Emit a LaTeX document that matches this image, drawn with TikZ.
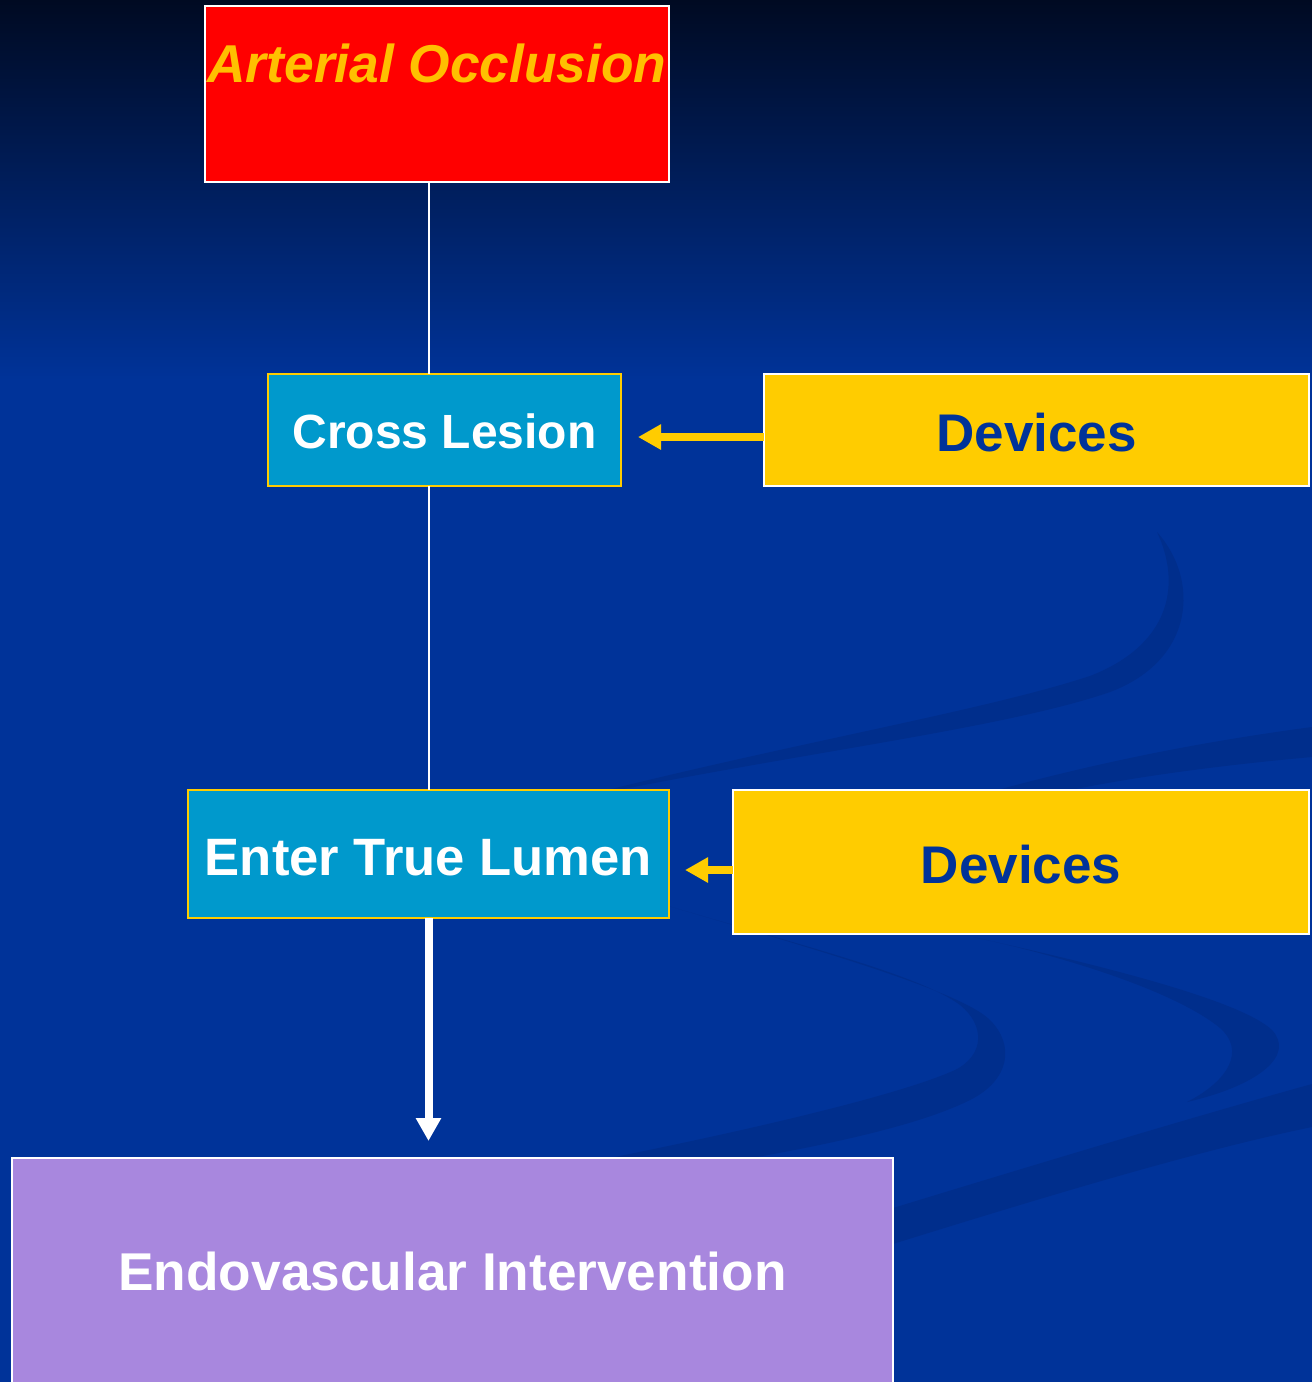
\documentclass[tikz,border=0pt]{standalone}
\usepackage{fontspec}
\setmainfont{Liberation Sans}
\usetikzlibrary{arrows.meta}
\definecolor{bgtop}{HTML}{000A22}
\definecolor{bgmain}{HTML}{003399}
\definecolor{swc}{HTML}{002E8C}
\definecolor{occred}{HTML}{FF0000}
\definecolor{occtxt}{HTML}{FFC000}
\definecolor{stepblue}{HTML}{0099CC}
\definecolor{devyel}{HTML}{FFCC00}
\definecolor{devtxt}{HTML}{003399}
\definecolor{endofill}{HTML}{A887DE}
\newcommand\myfs[1]{\fontsize{#1}{#1}\selectfont}
\begin{document}
\begin{tikzpicture}[x=1pt,y=-1pt,
  box/.style={rectangle, inner sep=0pt, outer sep=0pt, line width=2pt, anchor=north west},
  occbox/.style={box, draw=white, fill=occred, text=occtxt, font=\myfs{53.3}\bfseries\itshape},
  stepbox/.style={box, draw=devyel, fill=stepblue, text=white, font=\bfseries},
  devbox/.style={box, draw=white, fill=devyel, text=devtxt, font=\myfs{53}\bfseries},
  endobox/.style={box, draw=white, fill=endofill, text=white, font=\myfs{53.2}\bfseries},
  swoosh/.style={fill=swc},
  thinline/.style={draw=white, line width=2pt},
  yarr/.style={draw=devyel, line width=7.5pt, -{Triangle[length=23pt,width=24pt]}},
  warr/.style={draw=white, line width=8pt, -{Triangle[length=23pt,width=24pt]}}]
\useasboundingbox (0,0) rectangle (1312,1382);
% background
\fill[bgmain] (0,0) rectangle (1312,1382);
\shade[top color=bgtop, bottom color=bgmain] (0,0) rectangle (1312,380);
% swooshes
\fill[swoosh] (560,802) .. controls (780,755) and (1000,730) .. (1110,692)
  .. controls (1195,660) and (1200,580) .. (1157,532)
  .. controls (1182,585) and (1170,645) .. (1090,676)
  .. controls (980,712) and (780,745) .. (560,802) -- cycle;
\fill[swoosh] (990,792) .. controls (1100,762) and (1200,742) .. (1312,727)
  -- (1312,757) .. controls (1200,767) and (1100,782) .. (1040,797) -- cycle;
\fill[swoosh] (665,905) .. controls (800,945) and (960,990) .. (990,1020)
  .. controls (1015,1045) and (1010,1080) .. (970,1100)
  .. controls (900,1135) and (750,1160) .. (600,1182)
  -- (600,1160) .. controls (750,1130) and (900,1095) .. (955,1070)
  .. controls (985,1055) and (985,1025) .. (960,1005)
  .. controls (920,975) and (800,945) .. (665,905) -- cycle;
\fill[swoosh] (973,937) .. controls (1100,965) and (1240,1000) .. (1272,1030)
  .. controls (1295,1055) and (1260,1085) .. (1187,1102)
  .. controls (1230,1080) and (1245,1050) .. (1220,1028)
  .. controls (1180,995) and (1080,960) .. (973,937) -- cycle;
\fill[swoosh] (880,1212) .. controls (1050,1160) and (1200,1115) .. (1312,1084)
  -- (1312,1127) .. controls (1200,1150) and (1050,1195) .. (880,1248) -- cycle;
% nodes
\node[occbox, minimum width=464pt, text height=76pt, text depth=100pt] (occl) at (205,6) {Arterial Occlusion};
\node[stepbox, font=\myfs{48}\bfseries, minimum width=353pt, text height=74pt, text depth=38pt] (cross) at (268,374) {Cross Lesion};
\node[devbox, minimum width=545pt, text height=77pt, text depth=35pt] (dev1) at (764,374) {Devices};
\node[stepbox, font=\myfs{52.6}\bfseries, minimum width=481pt, text height=85pt, text depth=43pt] (enter) at (188,790) {Enter True Lumen};
\node[devbox, minimum width=576pt, text height=93pt, text depth=51pt] (dev2) at (733,790) {Devices};
\node[endobox, minimum width=881pt, text height=132pt, text depth=102pt] (endo) at (12,1158) {Endovascular Intervention};
% connectors
\draw[thinline] (occl.south -| enter.north) -- (cross.north -| enter.north);
\draw[thinline] (cross.south -| enter.north) -- (enter.north);
\coordinate (a1) at ([yshift=-7pt]dev1.west);
\draw[yarr, shorten >=17pt] (a1) -- (a1 -| cross.east);
\coordinate (a2) at ([yshift=-8pt]dev2.west);
\draw[yarr, shorten >=16pt] (a2) -- (a2 -| enter.east);
\draw[warr, shorten >=17pt] (enter.south) -- (endo.north -| enter.south);
\end{tikzpicture}
\end{document}
